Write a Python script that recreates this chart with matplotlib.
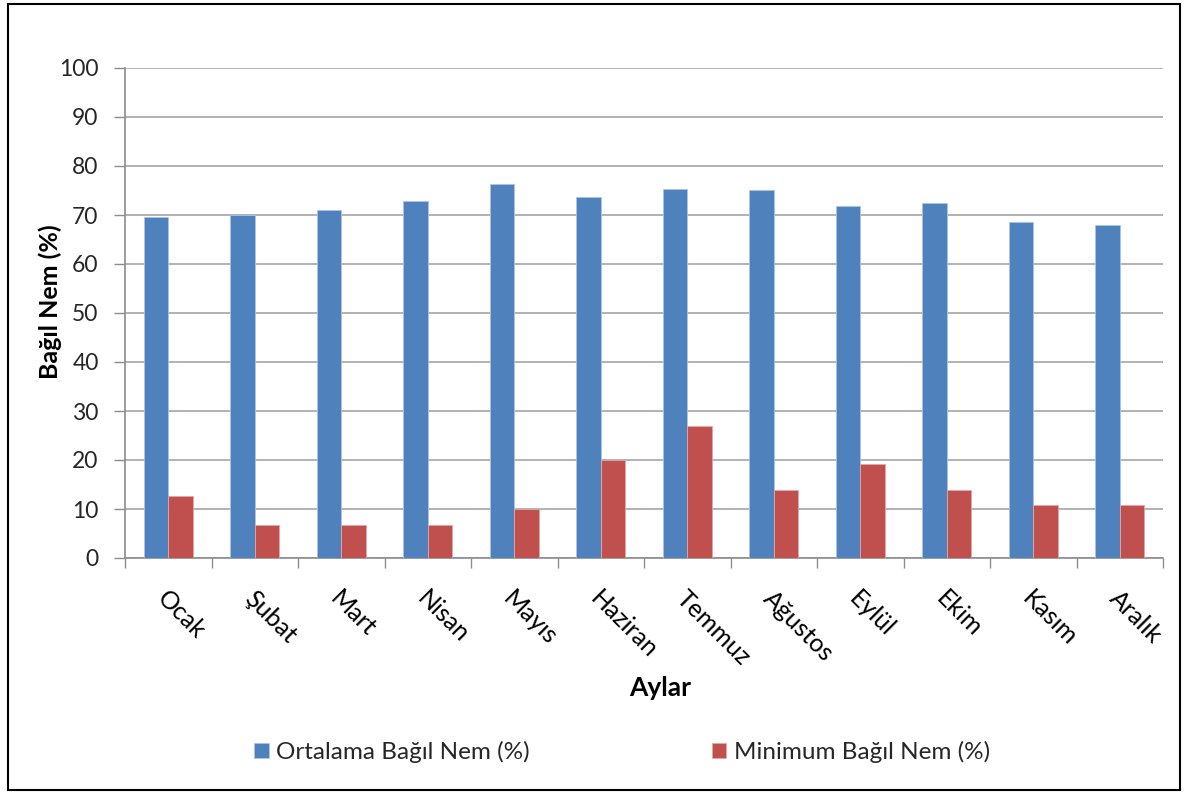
import numpy as np
import matplotlib.pyplot as plt
from matplotlib.patches import Rectangle

# month names and humidity values
months = ['Ocak', 'Şubat', 'Mart', 'Nisan', 'Mayıs', 'Haziran',
          'Temmuz', 'Ağustos', 'Eylül', 'Ekim', 'Kasım', 'Aralık']
ortalama = [69.6, 70.0, 71.0, 72.8, 76.3, 73.7, 75.3, 75.1, 71.9, 72.5, 68.5, 67.9]
minimum = [12.7, 6.8, 6.8, 6.8, 10.0, 20.0, 27.0, 13.8, 19.1, 13.8, 10.8, 10.8]

plt.rcParams['font.family'] = ['Lato', 'DejaVu Sans']

fig = plt.figure(figsize=(11.88, 7.93), dpi=100)
ax = fig.add_axes([125/1188, 1-558/793, (1163-125)/1188, (558-68)/793])

x = np.arange(len(months))
w = 0.283
ax.bar(x - w/2, ortalama, w, color='#4F81BD', edgecolor='#A9C4E8', linewidth=0.6,
       label='Ortalama Bağıl Nem (%)', zorder=3)
ax.bar(x + w/2, minimum, w, color='#C0504D', edgecolor='#E6A6A4', linewidth=0.6,
       label='Minimum Bağıl Nem (%)', zorder=3)

ax.set_xlim(-0.5, len(months) - 0.5)
ax.set_ylim(0, 100)
ax.set_yticks(np.arange(0, 101, 10))
ax.yaxis.grid(True, color='#A6A6A6', linewidth=1.2)
ax.set_axisbelow(True)

# ticks at category boundaries, labels at centres
ax.set_xticks(np.arange(-0.5, len(months), 1))
ax.set_xticklabels([])
ax.tick_params(axis='x', length=7, color='#8C8C8C', width=1)
ax.tick_params(axis='y', length=8, color='#8C8C8C', width=1, labelsize=16.5, pad=11,
               labelcolor='#262626')
for i, m in enumerate(months):
    ax.text(i - 0.08, -7.5, m, rotation=-45, rotation_mode='anchor',
            ha='left', va='center', fontsize=18, color='#000000')

for s in ['top', 'right']:
    ax.spines[s].set_visible(False)
for s in ['left', 'bottom']:
    ax.spines[s].set_color('#8C8C8C')
    ax.spines[s].set_linewidth(1.2)

fig.text(50/1188, 1-302/793, 'Bağıl Nem (%)', fontsize=18, fontweight='bold',
         rotation=90, ha='center', va='center')
fig.text(660/1188, 1-688/793, 'Aylar', fontsize=19, fontweight='bold',
         ha='center', va='center')

fig.legend(loc='center', bbox_to_anchor=(622/1188, 1-752/793), ncol=2,
           frameon=False, fontsize=17.5, handlelength=0.6, handleheight=0.6,
           handletextpad=0.3, columnspacing=7.5, labelcolor='#262626')

# outer border
fig.patches.append(Rectangle((8/1188, 3/793), 1172/1188, 786/793, transform=fig.transFigure,
                             fill=False, edgecolor='black', linewidth=1.5))

plt.savefig('out.png', dpi=100)
plt.close()
